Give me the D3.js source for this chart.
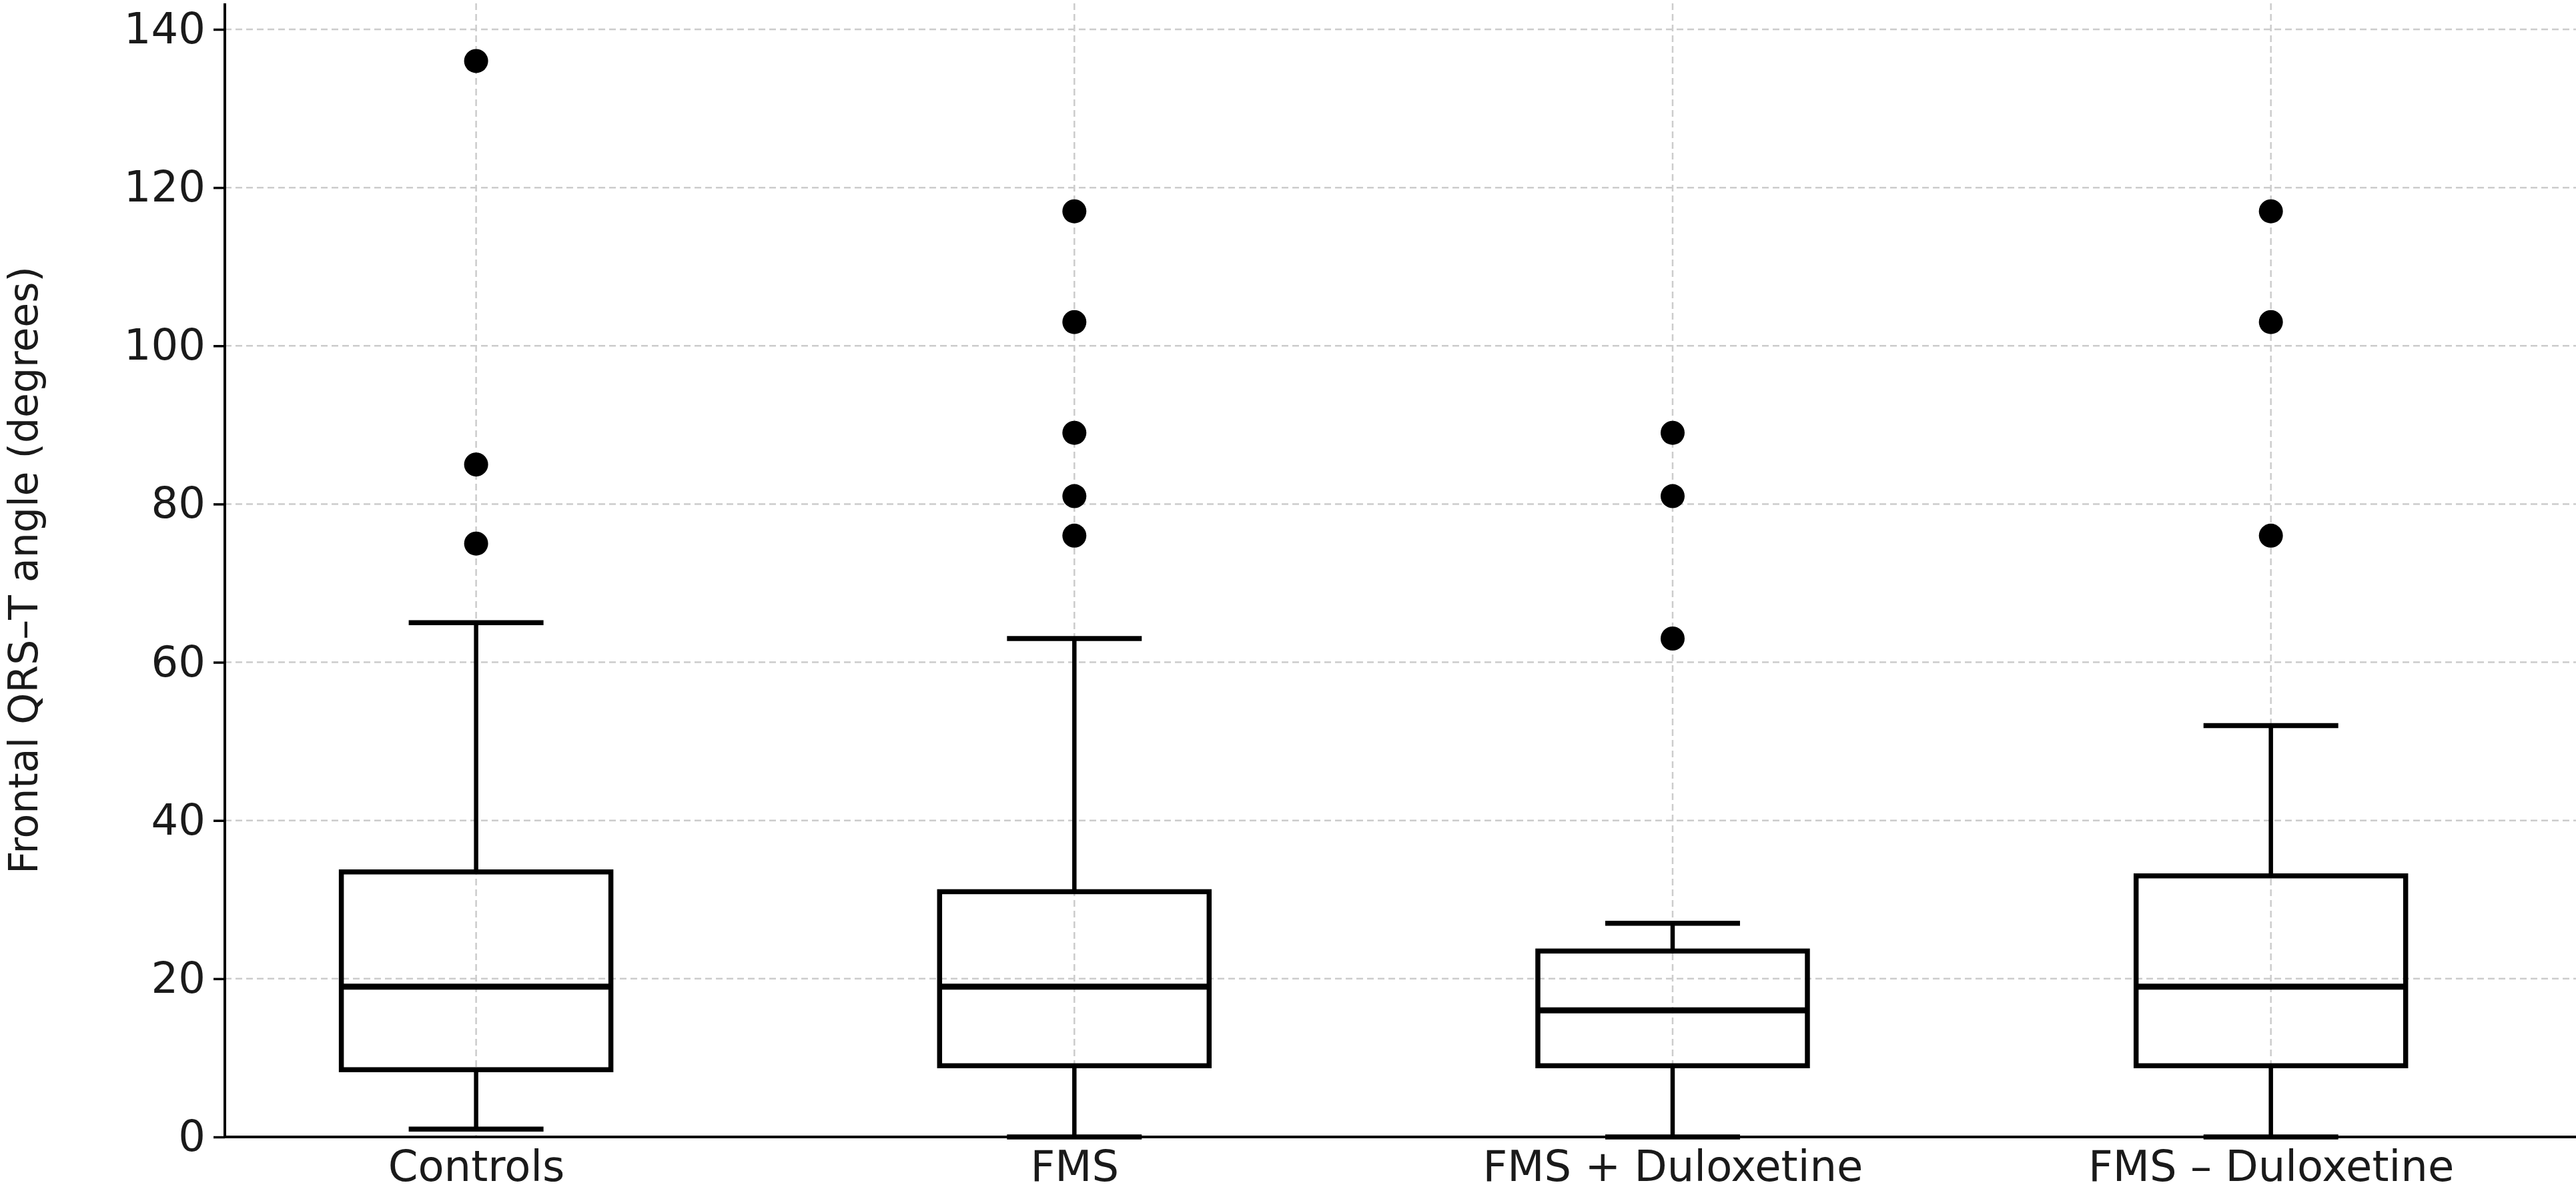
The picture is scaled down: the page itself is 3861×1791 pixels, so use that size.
<!DOCTYPE html>
<html>
<head>
<meta charset="utf-8">
<script src="https://cdn.jsdelivr.net/npm/d3@7"></script>
<style>
  body { margin: 0; background: #fff; }
  text { font-family: "DejaVu Sans", sans-serif; }
</style>
</head>
<body>
<svg id="chart" width="3861" height="1791"></svg>
<script>
// groups and box statistics
var groups = ["Controls", "FMS", "FMS + Duloxetine", "FMS \u2013 Duloxetine"];
var whiskerLow = [1, 0, 0, 0];
var q1 = [8.5, 9, 9, 9];
var median = [19, 19, 16, 19];
var q3 = [33.5, 31, 23.5, 33];
var whiskerHigh = [65, 63, 27, 52];
var outliers = [[75, 85, 136], [76, 81, 89, 103, 117], [63, 81, 89], [76, 103, 117]];
var yTicks = [0, 20, 40, 60, 80, 100, 120, 140];

var svg = d3.select("#chart");
var plotLeft = 337, plotRight = 3861, plotTop = 5, plotBottom = 1704;

var x = d3.scaleLinear().domain([-0.42, 3.51]).range([plotLeft, plotRight]);
var y = d3.scaleLinear().domain([0, 140]).range([plotBottom, 44]);

var boxHalf = 202, capHalf = 101;

// grid
var grid = svg.append("g").attr("stroke", "#cccccc").attr("stroke-width", 2.5).attr("stroke-dasharray", "10,6");
grid.selectAll(".h").data(yTicks).enter().append("line")
  .attr("x1", plotLeft).attr("x2", plotRight).attr("y1", d => y(d)).attr("y2", d => y(d));
grid.selectAll(".v").data(groups).enter().append("line")
  .attr("x1", (d, i) => x(i)).attr("x2", (d, i) => x(i)).attr("y1", plotTop).attr("y2", plotBottom);

// y axis
var yAxis = svg.append("g").attr("transform", `translate(${plotLeft},0)`)
  .call(d3.axisLeft(y).tickValues(yTicks).tickSize(17).tickPadding(12));
yAxis.select(".domain").attr("stroke-width", 4).attr("d", `M0,${plotTop}V${plotBottom}`);
yAxis.selectAll(".tick line").attr("stroke-width", 3.5);
yAxis.selectAll("text").attr("font-size", 64).attr("fill", "#1a1a1a");

// x axis
var xAxis = svg.append("g").attr("transform", `translate(0,${plotBottom})`)
  .call(d3.axisBottom(x).tickValues(d3.range(groups.length)).tickFormat(i => groups[i]).tickSize(0).tickPadding(18));
xAxis.select(".domain").attr("stroke-width", 4).attr("d", `M${plotLeft},0H${plotRight}`);
xAxis.selectAll("text").attr("font-size", 64).attr("fill", "#1a1a1a").attr("dy", "0.75em");

svg.append("text")
  .attr("transform", `translate(56,${(plotTop + plotBottom) / 2}) rotate(-90)`)
  .attr("text-anchor", "middle").attr("font-size", 60).attr("fill", "#1a1a1a")
  .text("Frontal QRS\u2013T angle (degrees)");

// boxes
var boxes = svg.append("g").selectAll("g").data(groups).enter().append("g");
boxes.each(function(d, i) {
  var g = d3.select(this), cx = x(i);
  g.append("line").attr("x1", cx).attr("x2", cx).attr("y1", y(q3[i])).attr("y2", y(whiskerHigh[i]))
    .attr("stroke", "#000").attr("stroke-width", 6.5);
  g.append("line").attr("x1", cx).attr("x2", cx).attr("y1", y(q1[i])).attr("y2", y(whiskerLow[i]))
    .attr("stroke", "#000").attr("stroke-width", 6.5);
  [whiskerLow[i], whiskerHigh[i]].forEach(v => {
    g.append("line").attr("x1", cx - capHalf).attr("x2", cx + capHalf).attr("y1", y(v)).attr("y2", y(v))
      .attr("stroke", "#000").attr("stroke-width", 7.5);
  });
  g.append("rect").attr("x", cx - boxHalf).attr("width", boxHalf * 2)
    .attr("y", y(q3[i])).attr("height", y(q1[i]) - y(q3[i]))
    .attr("fill", "none").attr("stroke", "#000").attr("stroke-width", 7.5);
  g.append("line").attr("x1", cx - boxHalf).attr("x2", cx + boxHalf).attr("y1", y(median[i])).attr("y2", y(median[i]))
    .attr("stroke", "#000").attr("stroke-width", 9);
  g.selectAll("circle").data(outliers[i]).enter().append("circle")
    .attr("cx", cx).attr("cy", v => y(v)).attr("r", 18).attr("fill", "#000");
});
</script>
</body>
</html>
